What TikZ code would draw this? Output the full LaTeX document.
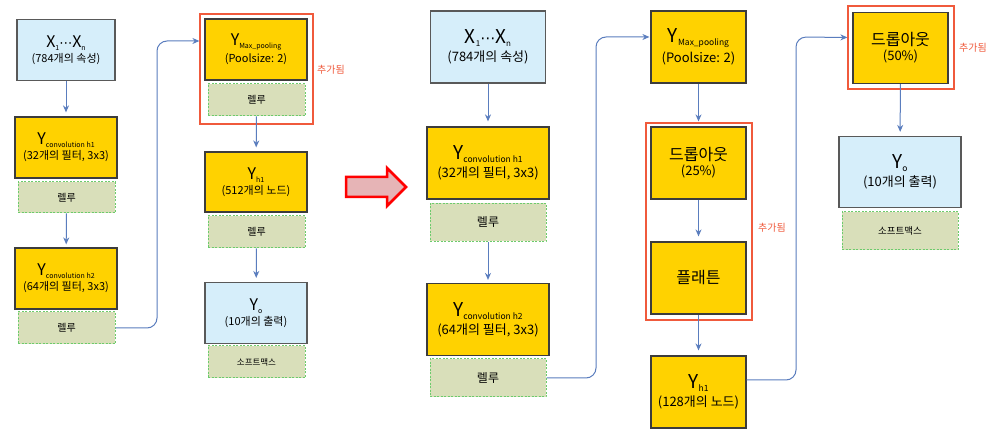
\documentclass[tikz,border=0pt]{standalone}
\usepackage{fontspec}
\setmainfont{Noto Sans CJK KR}
\newfontfamily\dejavu{DejaVu Sans}
\usetikzlibrary{arrows.meta}
\definecolor{gold}{HTML}{FFD200}
\definecolor{lblue}{HTML}{D6EEFA}
\definecolor{relufill}{HTML}{D9DFBA}
\definecolor{relugreen}{HTML}{6CCB6C}
\definecolor{conncol}{HTML}{5A7DBE}
\definecolor{addred}{HTML}{F05A3C}
\definecolor{boxline}{HTML}{3C3C3C}
\definecolor{arrowfill}{HTML}{E6B4B6}
\newcommand\ysub[2]{\raisebox{-3pt}{\fontsize{#1}{#1}\selectfont #2}}
\newcommand\fs[1]{\fontsize{#1}{#1}\selectfont}
\newcommand\mdots[1]{{\dejavu\fontsize{#1}{#1}\selectfont ⋯}}
\begin{document}
\begin{tikzpicture}[x=1pt,y=-1pt,
  sz/.style 2 args={minimum width=#1pt, minimum height=#2pt},
  goldbox/.style={draw=boxline, line width=1.2pt, fill=gold, inner sep=0pt, align=center},
  bluebox/.style={draw=boxline!85, line width=1.2pt, fill=lblue, inner sep=0pt, align=center},
  relubox/.style={draw=relugreen, dash pattern=on 2pt off 1.5pt, line width=1pt, fill=relufill, inner sep=0pt, align=center},
  conn/.style={draw=conncol, line width=1pt, -{Stealth[length=7pt,width=6pt]}, rounded corners=10pt},
  addframe/.style={draw=addred, line width=2.5pt},
  addlabel/.style={text=addred, font=\fs{10}, inner sep=0pt}
]
\useasboundingbox (0,0) rectangle (1004,443);
\fill[white] (0,0) rectangle (1004,443);

% ---------- left diagram ----------
\node[bluebox, sz={98}{61}] (lx) at (66,50) {{\fs{16}X\ysub{7}{1}\mdots{13}X\ysub{7}{n}}\\[2pt]{\fs{11}(784개의 속성)}};
\node[goldbox, sz={102}{61}] (lc1) at (66,147.5) {{\fs{16}Y\ysub{7}{convolution h1}}\\[2pt]{\fs{11}(32개의 필터, 3x3)}};
\node[relubox, sz={97}{31}] (lr1) at (66.5,197.5) {\fs{10}렐루};
\node[goldbox, sz={102}{61}] (lc2) at (66,278.5) {{\fs{16}Y\ysub{7}{convolution h2}}\\[2pt]{\fs{11}(64개의 필터, 3x3)}};
\node[relubox, sz={97}{32}] (lr2) at (66.5,328) {\fs{10}렐루};

\node[goldbox, sz={102}{61}] (lmp) at (256,49.5) {{\fs{16}Y\ysub{7}{Max\_pooling}}\\[2pt]{\fs{11}(Poolsize: 2)}};
\node[relubox, sz={97}{32}] (lmr) at (256.5,100) {\fs{10}렐루};
\draw[addframe] (200,14) rectangle (313,124);
\node[addlabel] (ladd) at (331,70) {추가됨};
\node[goldbox, sz={102}{60}] (lh1) at (256,182) {{\fs{16}Y\ysub{7}{h1}}\\[2pt]{\fs{11}(512개의 노드)}};
\node[relubox, sz={97}{32}] (lhr) at (256.5,232) {\fs{10}렐루};
\node[bluebox, sz={102}{61}] (lo) at (256,313) {{\fs{16}Y\ysub{7}{o}}\\[2pt]{\fs{11}(10개의 출력)}};
\node[relubox, sz={97}{32}] (los) at (256.5,362) {\fs{8.5}소프트맥스};

\draw[conn, shorten >=4pt] (lx) -- (lc1);
\draw[conn, shorten >=3pt] (lr1) -- (lc2);
\draw[conn, shorten >=5pt] (lr2.east) -| (157,41) -- ([yshift=8.5pt]lmp.west);
\draw[conn, shorten >=4pt] (lmr) -- (lh1);
\draw[conn, shorten >=4pt] (lhr) -- (lo);

% ---------- big arrow ----------
\draw[line width=2.5pt, draw=red, fill=arrowfill, line join=miter]
  (346,177) -- (387,177) -- (387,168) -- (406,187) -- (387,206) -- (387,197) -- (346,197) -- cycle;

% ---------- middle diagram ----------
\node[bluebox, sz={115}{72}] (mx) at (488,47) {{\fs{19}X\ysub{8}{1}\mdots{15}X\ysub{8}{n}}\\[3pt]{\fs{13}(784개의 속성)}};
\node[goldbox, sz={122}{72}] (mc1) at (488,163) {{\fs{19}Y\ysub{8.5}{convolution h1}}\\[3pt]{\fs{13}(32개의 필터, 3x3)}};
\node[relubox, sz={116}{38}] (mr1) at (488,222.5) {\fs{12}렐루};
\node[goldbox, sz={122}{72}] (mc2) at (488,319.5) {{\fs{19}Y\ysub{8.5}{convolution h2}}\\[3pt]{\fs{13}(64개의 필터, 3x3)}};
\node[relubox, sz={116}{38}] (mr2) at (488,378) {\fs{12}렐루};

\node[goldbox, sz={95}{72}] (mmp) at (698.5,47) {{\fs{19}Y\ysub{8.5}{Max\_pooling}}\\[3pt]{\fs{13}(Poolsize: 2)}};
\node[goldbox, sz={95}{72}] (md1) at (698.5,163) {{\fs{16}드롭아웃}\\[3pt]{\fs{13}(25\%)}};
\node[goldbox, sz={95}{72}] (mfl) at (698.5,278) {\fs{16}플래튼};
\draw[addframe] (646,123) rectangle (752,320);
\node[addlabel] (madd) at (772,228) {추가됨};
\node[goldbox, sz={95}{72}] (mh1) at (698.5,392) {{\fs{19}Y\ysub{8.5}{h1}}\\[3pt]{\fs{13}(128개의 노드)}};

% ---------- right diagram ----------
\node[goldbox, sz={95}{71}] (rd) at (900.5,48) {{\fs{16}드롭아웃}\\[3pt]{\fs{13}(50\%)}};
\draw[addframe] (848,6) rectangle (954,89);
\node[addlabel] (radd) at (973,48) {추가됨};
\node[bluebox, sz={122}{71}] (ro) at (900,172) {{\fs{19}Y\ysub{8.5}{o}}\\[3pt]{\fs{13}(10개의 출력)}};
\node[relubox, sz={116}{38}] (ros) at (900,231) {\fs{9.5}소프트맥스};

\draw[conn, shorten >=5pt] (mx) -- (mc1);
\draw[conn, shorten >=3pt] (mr1) -- (mc2);
\draw[conn, shorten >=1pt] (mr2.east) -| (596,37) -- ([yshift=10pt]mmp.west);
\draw[conn, shorten >=5pt] (mmp) -- (md1);
\draw[conn, shorten >=5pt] (md1) -- (mfl);
\draw[conn, shorten >=5pt] (mfl) -- (mh1);
\draw[conn, shorten >=5pt] ([yshift=12pt]mh1.east) -| (796,37) -- ([yshift=10.5pt]rd.west);
\draw[conn, shorten >=4pt] (rd) -- (ro);
\end{tikzpicture}
\end{document}
